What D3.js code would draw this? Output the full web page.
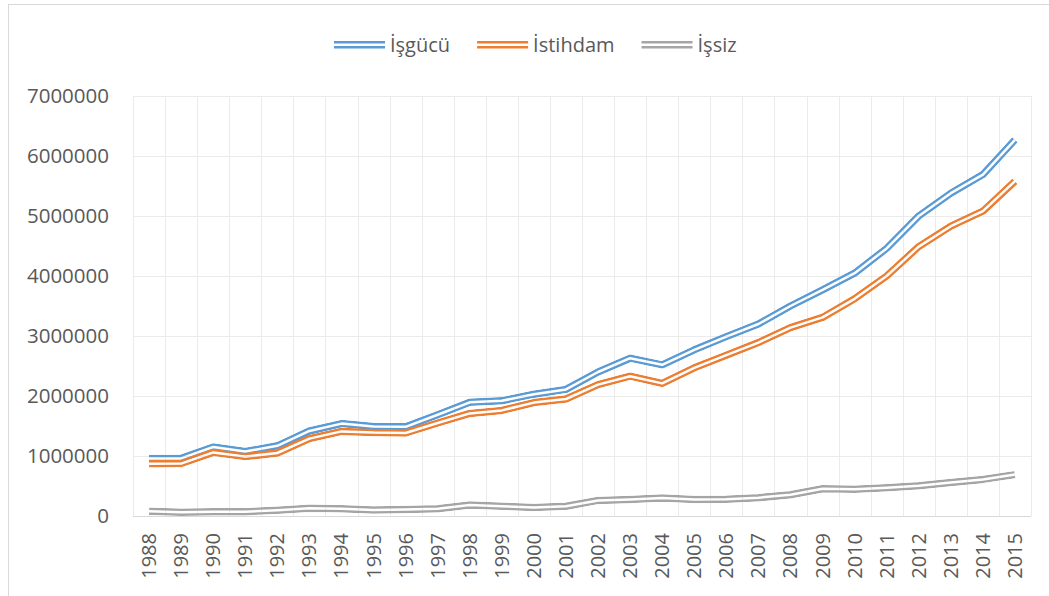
<!DOCTYPE html>
<html>
<head>
<meta charset="utf-8">
<script src="https://cdn.jsdelivr.net/npm/d3@7"></script>
<style>
    body { margin: 0; background: #ffffff; }
    svg text { font-family: "Open Sans", "Liberation Sans", sans-serif; fill: #595959; }
</style>
</head>
<body>
<svg id="chart" width="1049" height="596"></svg>
<script>
// years on the category axis
const years = ["1988","1989","1990","1991","1992","1993","1994","1995","1996","1997",
    "1998","1999","2000","2001","2002","2003","2004","2005","2006","2007",
    "2008","2009","2010","2011","2012","2013","2014","2015"];

const isgucu = [958000, 960000, 1150000, 1075000, 1170000, 1417000, 1540000, 1490000, 1486000, 1687000,
    1895000, 1920000, 2030000, 2110000, 2400000, 2630000, 2520000, 2770000, 2990000, 3200000,
    3500000, 3770000, 4047000, 4460000, 5000000, 5380000, 5690000, 6270000];

const istihdam = [870000, 875000, 1060000, 990000, 1050000, 1290000, 1410000, 1390000, 1383000, 1550000,
    1710000, 1760000, 1890000, 1950000, 2190000, 2330000, 2210000, 2470000, 2680000, 2890000,
    3140000, 3310000, 3620000, 4000000, 4490000, 4830000, 5080000, 5580000];

const issiz = [80000, 63000, 70000, 72000, 95000, 128000, 120000, 100000, 108000, 120000,
    183000, 163000, 142000, 163000, 260000, 275000, 300000, 275000, 280000, 305000,
    355000, 455000, 445000, 472000, 505000, 560000, 610000, 690000];

const seriesNames = ["İşgücü", "İstihdam", "İşsiz"];
const seriesColors = ["#5B9BD5", "#ED7D31", "#A5A5A5"];
const yTicks = [0, 1000000, 2000000, 3000000, 4000000, 5000000, 6000000, 7000000];

const W = 1049, H = 596;
const plot = {left: 133, right: 1031, top: 96, bottom: 516};

let svg = d3.select("#chart");
let defs = svg.append("defs");

// chart area border (only left and top are inside the picture)
svg.append("rect")
    .attr("x", 8.5).attr("y", 4.5)
    .attr("width", W + 20).attr("height", H + 20)
    .style("fill", "none").style("stroke", "#D9D9D9").style("stroke-width", 1);

let x = d3.scaleBand()
    .domain(years)
    .range([plot.left, plot.right]);

let y = d3.scaleLinear()
    .domain([0, 7000000])
    .range([plot.bottom, plot.top]);

// horizontal gridlines
svg.append("g").selectAll("line")
    .data(yTicks)
    .enter()
    .append("line")
    .attr("x1", plot.left).attr("x2", plot.right)
    .attr("y1", d => Math.round(y(d)) + 0.5)
    .attr("y2", d => Math.round(y(d)) + 0.5)
    .style("stroke", d => d == 0 ? "#D9D9D9" : "#EBEBEB")
    .style("stroke-width", 1);

// vertical gridlines between categories
let edges = years.map(d => x(d)).concat([plot.right]);
svg.append("g").selectAll("line")
    .data(edges)
    .enter()
    .append("line")
    .attr("x1", d => Math.round(d) + 0.5).attr("x2", d => Math.round(d) + 0.5)
    .attr("y1", plot.top).attr("y2", plot.bottom)
    .style("stroke", "#EBEBEB")
    .style("stroke-width", 1);

// y axis labels
let yAxis = d3.axisLeft(y).tickValues(yTicks).tickFormat(d3.format("d")).tickSize(0).tickPadding(24);
let gY = svg.append("g")
    .attr("transform", "translate(" + plot.left + ",0)")
    .call(yAxis);
gY.select(".domain").remove();
gY.selectAll("text")
    .style("font-size", "20.5px")
    .style("fill", "#595959")
    .style("font-family", "'Open Sans', sans-serif");

// x axis labels, rotated
let xAxis = d3.axisBottom(x).tickSize(0);
let gX = svg.append("g")
    .attr("transform", "translate(0," + plot.bottom + ")")
    .call(xAxis);
gX.select(".domain").remove();
gX.selectAll("text")
    .attr("transform", "rotate(-90)")
    .attr("x", -17)
    .attr("y", 0)
    .attr("dy", "0.35em")
    .style("text-anchor", "end")
    .style("font-size", "20px")
    .style("fill", "#595959")
    .style("font-family", "'Open Sans', sans-serif");

// double ("compound") lines: a wide stroke with a transparent core cut out by a mask
const outerW = 7.5, innerW = 2.5;
let line = d3.line()
    .x((d, i) => x(years[i]) + x.bandwidth() / 2)
    .y(d => y(d));

let allSeries = [isgucu, istihdam, issiz];
allSeries.forEach(function(vals, k) {
    let pathD = line(vals);
    let m = defs.append("mask")
        .attr("id", "mask" + k)
        .attr("maskUnits", "userSpaceOnUse")
        .attr("x", 0).attr("y", 0).attr("width", W).attr("height", H);
    m.append("path").attr("d", pathD)
        .style("fill", "none").style("stroke", "#fff").style("stroke-width", outerW)
        .style("stroke-linejoin", "round");
    m.append("path").attr("d", pathD)
        .style("fill", "none").style("stroke", "#000").style("stroke-width", innerW)
        .style("stroke-linejoin", "round");

    svg.append("path")
        .attr("d", pathD)
        .attr("mask", "url(#mask" + k + ")")
        .style("fill", "none")
        .style("stroke", seriesColors[k])
        .style("stroke-width", outerW)
        .style("stroke-linejoin", "round")
        .style("stroke-linecap", "butt");
});

// legend
let legend = svg.append("g").attr("class", "legend");
let lx = 334, ly = 44.8;
seriesNames.forEach(function(name, k) {
    let g = legend.append("g");
    g.append("line")
        .attr("x1", lx).attr("x2", lx + 51)
        .attr("y1", ly - 2.5).attr("y2", ly - 2.5)
        .style("stroke", seriesColors[k]).style("stroke-width", 2.5);
    g.append("line")
        .attr("x1", lx).attr("x2", lx + 51)
        .attr("y1", ly + 2.5).attr("y2", ly + 2.5)
        .style("stroke", seriesColors[k]).style("stroke-width", 2.5);
    let t = g.append("text")
        .attr("x", lx + 56)
        .attr("y", 52)
        .style("font-size", "20px")
        .text(name);
    lx = lx + 56 + t.node().getComputedTextLength() + 27;
});
</script>
</body>
</html>
